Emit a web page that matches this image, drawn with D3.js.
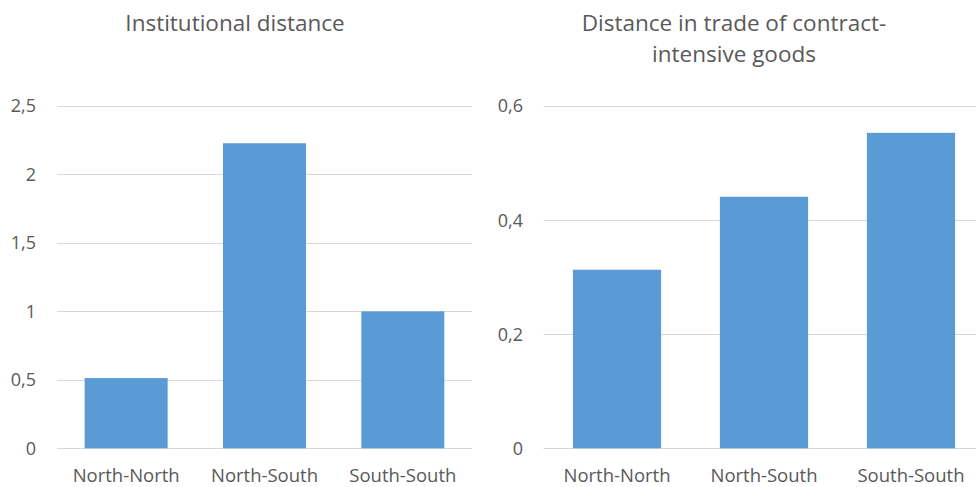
<!DOCTYPE html>
<html>
<head>
<meta charset="utf-8">
<script src="https://cdn.jsdelivr.net/npm/d3@7"></script>
<style>
  html, body { margin: 0; padding: 0; background: #fff; }
  svg { display: block; }
  text { font-family: "Open Sans", "Noto Sans", sans-serif; fill: #595959; }
</style>
</head>
<body>
<svg id="chart" width="976" height="487"></svg>
<script>
// Country-pair groups shared by both panels
const categories = ["North-North", "North-South", "South-South"];

// Left panel: institutional distance
const institutionalValues = [0.513, 2.228, 1.0];
const institutionalTicks = [0, 0.5, 1, 1.5, 2, 2.5];

// Right panel: distance in trade of contract-intensive goods
const tradeValues = [0.313, 0.441, 0.553];
const tradeTicks = [0, 0.2, 0.4, 0.6];

const titles = [["Institutional distance"], ["Distance in trade of contract-", "intensive goods"]];

const locale = d3.formatLocale({ decimal: ",", thousands: ".", grouping: [3], currency: ["", "€"] });
const fmt = locale.format("~g");

const svg = d3.select("#chart");

const panels = [
  { values: institutionalValues, ticks: institutionalTicks, title: titles[0],
    x0: 57, x1: 472, labelX: 36, titleX: 235 },
  { values: tradeValues, ticks: tradeTicks, title: titles[1],
    x0: 543.5, x1: 984.5, labelX: 523, titleX: 734 }
];

const yTop = 106, yBottom = 448.3;

panels.forEach(p => {
  const g = svg.append("g");
  const yMax = p.ticks[p.ticks.length - 1];
  const y = d3.scaleLinear().domain([0, yMax]).range([yBottom, yTop]);
  const x = d3.scaleBand().domain(categories).range([p.x0, p.x1])
    .paddingInner(0.4).paddingOuter(0.2);

  // horizontal gridlines
  g.append("g").selectAll("line").data(p.ticks).join("line")
    .attr("x1", p.x0).attr("x2", p.x1)
    .attr("y1", d => Math.round(y(d)) + 0.5).attr("y2", d => Math.round(y(d)) + 0.5)
    .attr("stroke", "#d9d9d9").attr("stroke-width", 1);

  // y-axis labels
  g.append("g").selectAll("text").data(p.ticks).join("text")
    .attr("x", p.labelX).attr("y", d => y(d))
    .attr("dy", "0.36em").attr("text-anchor", "end")
    .style("font-size", "18px")
    .text(d => fmt(d));

  // bars
  g.append("g").selectAll("rect").data(p.values).join("rect")
    .attr("x", (d, i) => x(categories[i]))
    .attr("width", x.bandwidth())
    .attr("y", d => y(d))
    .attr("height", d => y(0) - y(d))
    .attr("fill", "#5b9bd5");

  // category labels
  g.append("g").selectAll("text").data(categories).join("text")
    .attr("x", d => x(d) + x.bandwidth() / 2)
    .attr("y", 481.5)
    .attr("text-anchor", "middle")
    .style("font-size", "18.5px")
    .text(d => d);

  // title
  g.append("g").selectAll("text").data(p.title).join("text")
    .attr("x", p.titleX)
    .attr("y", (d, i) => 31 + i * 30.5)
    .attr("text-anchor", "middle")
    .style("font-size", "22.5px")
    .text(d => d);
});
</script>
</body>
</html>
